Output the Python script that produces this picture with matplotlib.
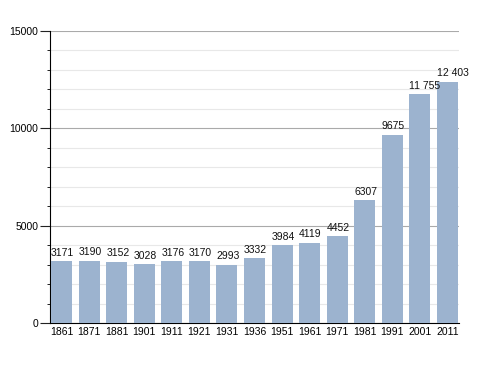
import matplotlib
matplotlib.use("Agg")
import matplotlib.pyplot as plt
from matplotlib.ticker import MultipleLocator

years = ["1861", "1871", "1881", "1901", "1911", "1921", "1931", "1936",
         "1951", "1961", "1971", "1981", "1991", "2001", "2011"]
population = [3171, 3190, 3152, 3028, 3176, 3170, 2993, 3332,
              3984, 4119, 4452, 6307, 9675, 11755, 12403]
labels = ["3171", "3190", "3152", "3028", "3176", "3170", "2993", "3332",
          "3984", "4119", "4452", "6307", "9675", "11 755", "12 403"]

plt.rcParams['font.family'] = ['Liberation Sans', 'DejaVu Sans']

fig = plt.figure(figsize=(4.88, 3.73), dpi=100)
ax = fig.add_axes([50/488, 1 - 323/373, 409/488, 292/373])

w = 0.76
x = list(range(len(years)))
ax.bar(x, population, width=w, color="#9cb3cf", zorder=3)
for xi, v, lab in zip(x, population, labels):
    ax.text(xi - w/2, v + 180, lab, ha="left", va="bottom", fontsize=7.5,
            color="#111111", zorder=4)

ax.set_xlim(-0.42, len(years) - 1 + 0.42)
ax.set_ylim(0, 15000)
ax.yaxis.set_major_locator(MultipleLocator(5000))
ax.yaxis.set_minor_locator(MultipleLocator(1000))
ax.set_xticks(x)
ax.set_xticklabels(years)
ax.grid(axis="y", which="major", color="#aaaaaa", linewidth=0.8, zorder=0)
ax.grid(axis="y", which="minor", color="#e8e8e8", linewidth=0.8, zorder=0)
for s in ["top", "right"]:
    ax.spines[s].set_visible(False)
ax.spines["left"].set_linewidth(0.8)
ax.spines["bottom"].set_linewidth(0.8)
ax.tick_params(axis="y", which="major", length=7, width=0.8, labelsize=7.5, pad=1.5,
               color="#222222")
ax.tick_params(axis="y", which="minor", length=2.5, width=0.6)
ax.tick_params(axis="x", length=0, labelsize=7.5, pad=3)

fig.savefig("out.png", dpi=100)
